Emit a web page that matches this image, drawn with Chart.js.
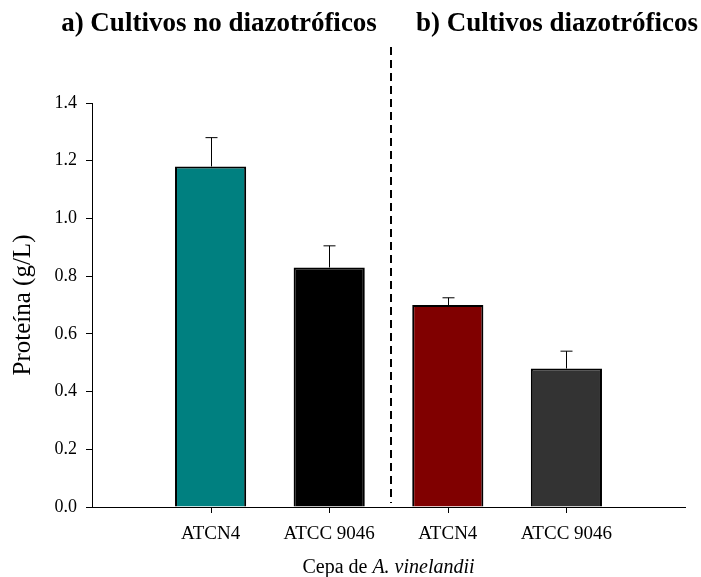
<!DOCTYPE html>
<html>
<head>
<meta charset="utf-8">
<script src="https://cdn.jsdelivr.net/npm/chart.js@4"></script>
<style>
  html, body { margin: 0; padding: 0; background: #fff; }
  #wrap { width: 701px; height: 577px; }
</style>
</head>
<body>
<div id="wrap"><canvas id="chart" width="701" height="577"></canvas></div>
<script>
// strain labels, blank slots at both ends leave room either side
const strains = ['', 'ATCN4', 'ATCC 9046', 'ATCN4', 'ATCC 9046', ''];
const protein = [null, 1.18, 0.83, 0.70, 0.48, null];
const proteinErr = [null, 0.10, 0.075, 0.025, 0.06, null];
const barColors = ['#000', '#008080', '#000000', '#800000', '#333333', '#000'];
const yTicks = [0, 0.2, 0.4, 0.6, 0.8, 1.0, 1.2, 1.4];
const panelTitles = ['a) Cultivos no diazotróficos', 'b) Cultivos diazotróficos'];

const serif = '"Liberation Serif", "Times New Roman", serif';

const extras = {
    id: 'extras',
    afterDraw(chart) {
        const ctx = chart.ctx;
        const x = chart.scales.x;
        const y = chart.scales.y;
        const base = Math.round(y.getPixelForValue(0));

        ctx.save();
        ctx.strokeStyle = '#000';
        ctx.lineWidth = 1;

        // x tick marks under the named strains only
        ctx.beginPath();
        for (let i = 1; i < strains.length - 1; i++) {
            const px = Math.round(x.getPixelForValue(i)) + 0.5;
            ctx.moveTo(px, base);
            ctx.lineTo(px, base + 6);
        }
        ctx.stroke();

        // error bars (upper only)
        protein.forEach((v, i) => {
            if (v === null) return;
            const px = Math.round(x.getPixelForValue(i)) + 0.5;
            const top = y.getPixelForValue(v);
            const hi = y.getPixelForValue(v + proteinErr[i]);
            ctx.beginPath();
            ctx.moveTo(px, top);
            ctx.lineTo(px, hi);
            ctx.moveTo(px - 6, hi);
            ctx.lineTo(px + 6, hi);
            ctx.stroke();
        });

        // dashed separator between the two groups
        const sx = Math.round(x.getPixelForValue(2.5)) + 2;
        ctx.setLineDash([8, 5]);
        ctx.lineWidth = 2;
        ctx.beginPath();
        ctx.moveTo(sx, 47);
        ctx.lineTo(sx, base - 4);
        ctx.stroke();
        ctx.setLineDash([]);

        // panel titles
        ctx.fillStyle = '#000';
        ctx.font = 'bold 27px ' + serif;
        ctx.textBaseline = 'alphabetic';
        ctx.textAlign = 'center';
        ctx.fillText(panelTitles[0], 219, 31);
        ctx.fillText(panelTitles[1], 557, 31);

        // x axis title with italic species name
        ctx.font = '20px ' + serif;
        const p1 = 'Cepa de ';
        const p2 = 'A. vinelandii';
        const w1 = ctx.measureText(p1).width;
        ctx.font = 'italic 20px ' + serif;
        const w2 = ctx.measureText(p2).width;
        const cx = (x.left + x.right) / 2;
        let start = cx - (w1 + w2) / 2;
        ctx.textAlign = 'left';
        ctx.font = '20px ' + serif;
        ctx.fillText(p1, start, 573);
        ctx.font = 'italic 20px ' + serif;
        ctx.fillText(p2, start + w1, 573);
        ctx.restore();
    }
};

new Chart(document.getElementById('chart'), {
    type: 'bar',
    data: {
        labels: strains,
        datasets: [{
            data: protein,
            backgroundColor: barColors,
            borderColor: '#000',
            borderWidth: 2,
            borderSkipped: 'bottom',
            barPercentage: 0.6,
            categoryPercentage: 1.0
        }]
    },
    options: {
        responsive: false,
        animation: false,
        layout: { padding: { top: 103, right: 16, left: 8, bottom: 0 } },
        plugins: {
            legend: { display: false },
            tooltip: { enabled: false }
        },
        scales: {
            x: {
                offset: false,
                grid: { display: false },
                border: { color: '#000', width: 1 },
                ticks: {
                    color: '#000',
                    font: { family: serif, size: 19 },
                    padding: 8,
                    maxRotation: 0,
                    autoSkip: false
                },
                afterFit: s => { s.height = 70; }
            },
            y: {
                min: 0,
                max: 1.4,
                afterBuildTicks: s => { s.ticks = yTicks.map(v => ({ value: v })); },
                grid: {
                    display: true,
                    drawOnChartArea: false,
                    tickLength: 6,
                    color: '#000'
                },
                border: { color: '#000', width: 1 },
                ticks: {
                    color: '#000',
                    font: { family: serif, size: 18 },
                    padding: 9,
                    callback: v => v.toFixed(1)
                },
                title: {
                    display: true,
                    text: 'Proteína (g/L)',
                    color: '#000',
                    font: { family: serif, size: 25 },
                    padding: { top: 0, bottom: 2 }
                },
                afterFit: s => { s.width = 84; }
            }
        }
    },
    plugins: [extras]
});
</script>
</body>
</html>
